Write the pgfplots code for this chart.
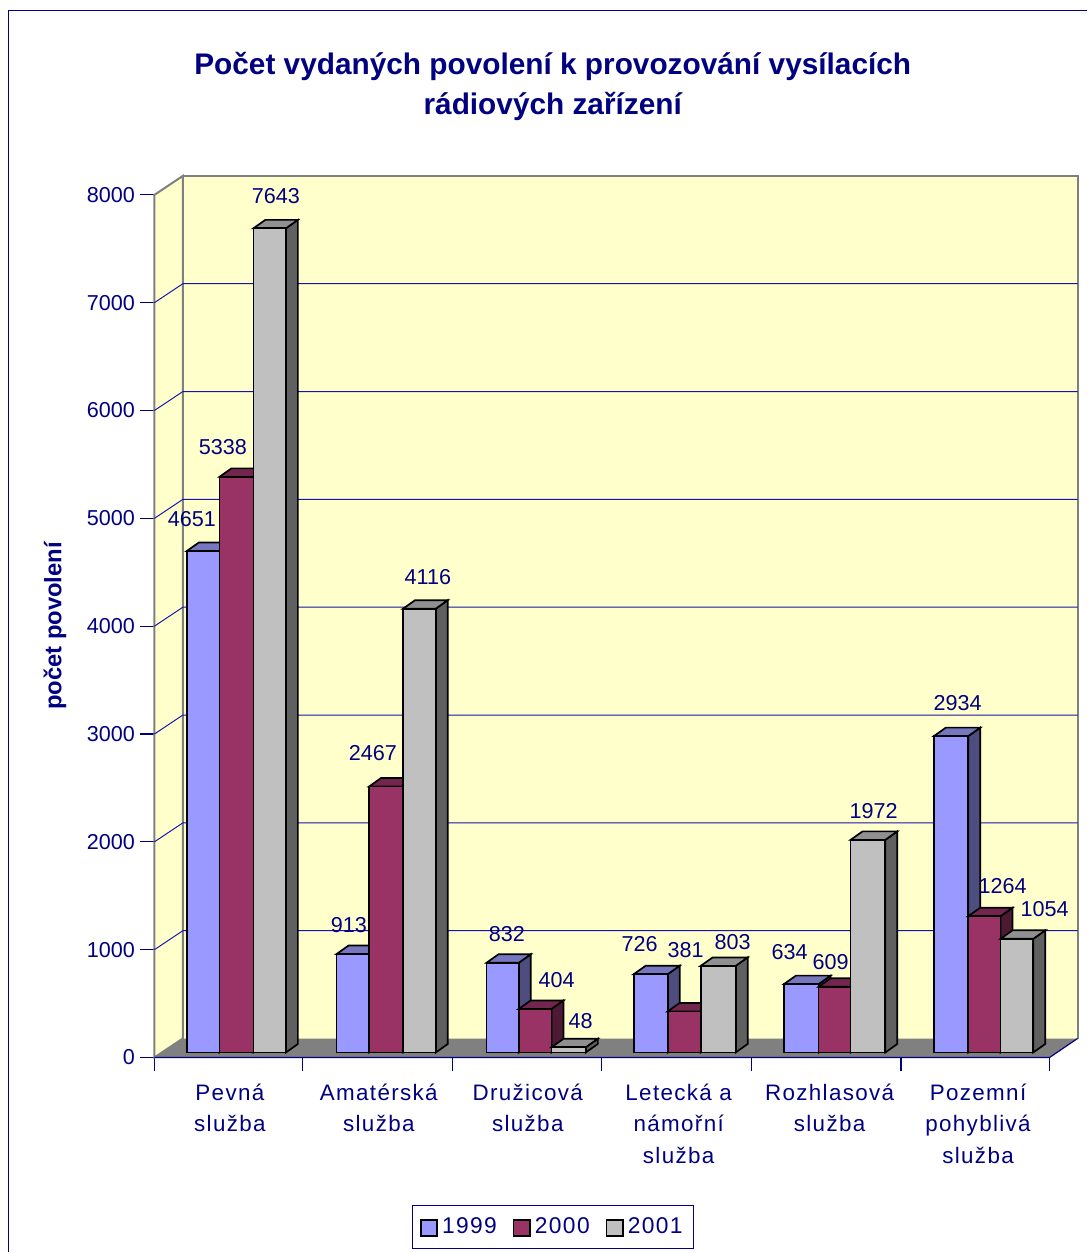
\documentclass[border=0pt]{standalone}
\usepackage{pgfplots}
\pgfplotsset{compat=1.18}
\usepackage{fontspec}
\setmainfont{Liberation Sans}
\newfontfamily\catfont[LetterSpace=6]{Liberation Sans}
\definecolor{navyt}{RGB}{0,0,128}
\definecolor{gridc}{RGB}{20,20,170}
\definecolor{wall}{RGB}{255,255,204}
\definecolor{floorc}{RGB}{128,128,128}
\definecolor{af}{RGB}{153,153,255}\definecolor{at}{RGB}{119,119,191}\definecolor{as}{RGB}{77,77,128}
\definecolor{bf}{RGB}{153,51,102}\definecolor{bt}{RGB}{115,38,77}\definecolor{bs}{RGB}{77,26,51}
\definecolor{cf}{RGB}{192,192,192}\definecolor{ct}{RGB}{144,144,144}\definecolor{cs}{RGB}{96,96,96}
% one bar: left x, right x, value, front, top, side colours
\newcommand{\onebar}[6]{%
  \pgfmathsetmacro\xa{#2+12}\pgfmathsetmacro\xb{#1+12}\pgfmathsetmacro\vt{#3+78.8}%
  \edef\tmp{\noexpand\addplot[draw=black,line width=.85pt,fill=#6,line join=miter] coordinates {(#2,0)(\xa,78.8)(\xa,\vt)(#2,#3)} --cycle;
  \noexpand\addplot[draw=black,line width=.85pt,fill=#5,line join=miter] coordinates {(#1,#3)(\xb,\vt)(\xa,\vt)(#2,#3)} --cycle;
  \noexpand\addplot[draw=black,line width=.85pt,fill=#4,line join=miter] coordinates {(#1,0)(#1,#3)(#2,#3)(#2,0)} --cycle;}\tmp}
\newcommand{\grp}[7]{%
  \onebar{#1}{#2}{#5}{af}{at}{as}\onebar{#2}{#3}{#6}{bf}{bt}{bs}\onebar{#3}{#4}{#7}{cf}{ct}{cs}}
\newcommand{\gridl}[2]{%
  \addplot[draw=gridc,line width=.5pt] coordinates {(154.5,#1)(183,#2)(1078,#2)};}
\newcommand{\lab}[3]{\node[text=navyt,font=\fontsize{10.8}{13}\selectfont,inner sep=0pt] at (axis cs:#1,{(1053-#2)/0.10788}) {#3};}
\begin{document}
\begin{tikzpicture}
\begin{axis}[
  x=0.5pt,y=0.05394pt,
  xmin=154.5,xmax=1078,ymin=-46.35,ymax=8129.4,
  clip=false,
  axis line style={draw=none},
  tick style={draw=navyt,line width=.6pt},
  tick align=outside,
  xtick pos=bottom,ytick pos=left,
  ytick={-46.35,953.65,1953.65,2953.65,3953.65,4953.65,5953.65,6953.65,7953.65},
  yticklabels={0,1000,2000,3000,4000,5000,6000,7000,8000},
  yticklabel style={text=navyt,font=\fontsize{10.8}{13}\selectfont,inner sep=0pt,xshift=-2.6pt},
  major tick length=7pt,
  xtick={230,379,528,679,830,978.5},
  xticklabels={Pevná\\služba,Amatérská\\služba,Družicová\\služba,Letecká a\\námořní\\služba,Rozhlasová\\služba,Pozemní\\pohyblivá\\služba},
  x tick style={draw=none},
  xticklabel style={text=navyt,align=center,font=\catfont\fontsize{11.2}{15.75}\selectfont,anchor=north,yshift=-6pt,inner sep=0pt},
  extra x ticks={154.5,303,452.5,602,752,901.5,1050},
  extra x tick labels={},
  extra x tick style={xtick pos=bottom,x tick style={draw=navyt,line width=.6pt},major tick length=7pt},
  title={Počet vydaných povolení k provozování vysílacích\\rádiových zařízení},
  title style={at={(axis description cs:.4315,1.0873)},yshift=0pt,anchor=center,align=center,text=navyt,font=\bfseries\fontsize{14.9}{20}\selectfont,inner sep=0pt},
  ylabel={počet povolení},
  ylabel style={at={(axis description cs:-.1077,.4895)},anchor=center,text=navyt,font=\bfseries\fontsize{11.9}{13}\selectfont,inner sep=0pt},
  legend style={at={(axis cs:553.5,-1620)},anchor=center,draw=navyt,line width=.5pt,text=navyt,font=\catfont\fontsize{11.4}{13}\selectfont,inner xsep=3.5pt,inner ysep=4pt,
    /tikz/every even column/.append style={column sep=6pt}},
  legend columns=3,
  legend cell align=left,
  legend image code/.code={\draw[#1,line width=.8pt] (0cm,-0.15cm) rectangle (0.29cm,0.13cm);},
]
% legend
\addlegendimage{fill=af,draw=black}\addlegendentry{1999}
\addlegendimage{fill=bf,draw=black}\addlegendentry{2000}
\addlegendimage{fill=cf,draw=black}\addlegendentry{2001}
% chart frame and page extent
\path (axis cs:0,9760.8) rectangle (axis cs:1087,-1853.9);
\draw[navyt,line width=.6pt] (axis cs:8.5,-1853.9) -- (axis cs:8.5,9663.5) -- (axis cs:1087,9663.5);
% walls and floor
\addplot[fill=wall,draw=floorc,line width=1pt] coordinates {(154.5,-46.35)(154.5,7953.65)(183,8129.4)(183,129.8)} --cycle;
\addplot[fill=wall,draw=none] coordinates {(183,129.8)(183,8129.4)(1078,8129.4)(1078,129.8)} --cycle;
\addplot[draw=floorc,line width=1pt] coordinates {(183,129.8)(183,8129.4)(1078,8129.4)(1078,129.8)};
\gridl{953.65}{1129.8}
\gridl{1953.65}{2129.8}
\gridl{2953.65}{3129.8}
\gridl{3953.65}{4129.8}
\gridl{4953.65}{5129.8}
\gridl{5953.65}{6129.8}
\gridl{6953.65}{7129.8}
\addplot[fill=floorc,draw=none] coordinates {(154.5,-46.35)(1050,-46.35)(1078,129.8)(183,129.8)} --cycle;
\addplot[draw=navyt,line width=.6pt] coordinates {(154.5,-46.35)(1050,-46.35)(1078,129.8)};
% bars: 1999, 2000, 2001
\grp{187}{219.5}{253.5}{286}{4651}{5338}{7643}
\grp{336.7}{369.3}{403.3}{436}{913}{2467}{4116}
\grp{486.7}{519}{551.7}{586}{832}{404}{48}
\grp{634}{668}{701}{736}{726}{381}{803}
\grp{784.3}{819}{851}{885.7}{634}{609}{1972}
\grp{934.3}{968.7}{1001}{1033.7}{2934}{1264}{1054}
% value labels
\lab{276}{196}{7643}\lab{223}{447}{5338}\lab{192}{519}{4651}
\lab{428}{577}{4116}\lab{373}{753}{2467}\lab{349}{926}{913}
\lab{507}{935}{832}\lab{557}{981}{404}\lab{581}{1022}{48}
\lab{640}{945}{726}\lab{686}{951}{381}\lab{733}{943}{803}
\lab{790}{953}{634}\lab{831}{963}{609}\lab{874}{811}{1972}
\lab{958}{703}{2934}\lab{1003}{886}{1264}\lab{1045}{910}{1054}
\end{axis}
\end{tikzpicture}
\end{document}
